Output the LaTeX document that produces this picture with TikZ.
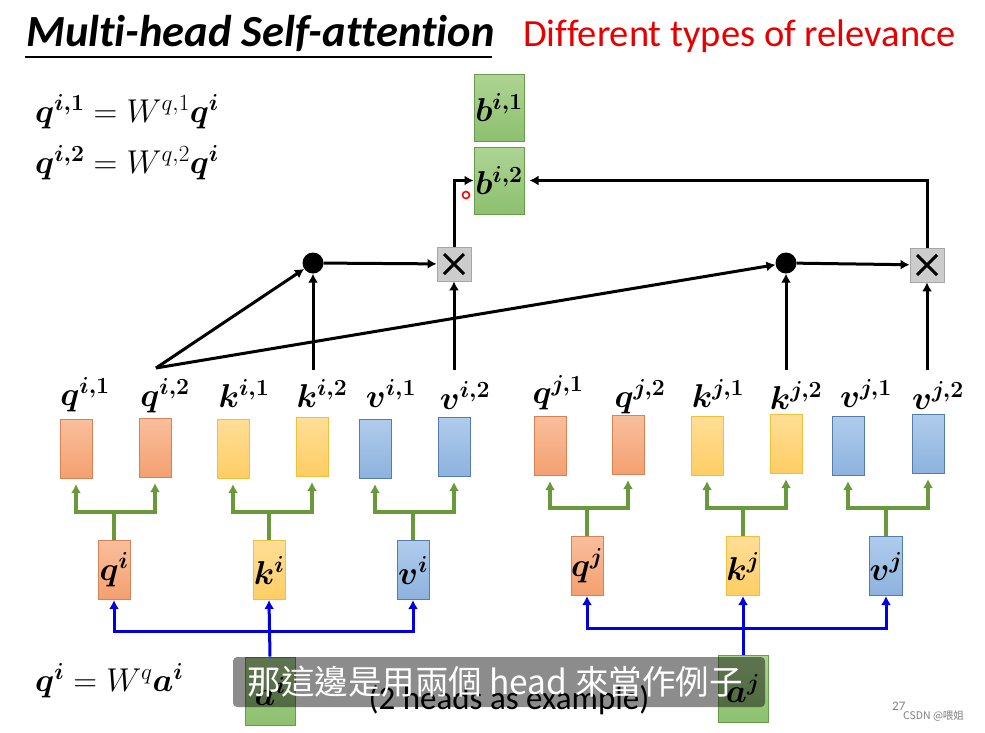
\RequirePackage{fix-cm}
\documentclass[tikz,border=0pt]{standalone}
\usepackage[no-math]{fontspec}
\setmainfont[Ligatures=NoCommon]{Carlito}
\newfontfamily\cjk{Noto Sans CJK TC}
\usepackage{amsmath,bm}
\usetikzlibrary{arrows.meta,calc}
\newcommand\myfs[1]{\fontsize{#1}{#1}\selectfont}
\definecolor{qtop}{RGB}{249,190,156}
\definecolor{qbot}{RGB}{244,160,112}
\definecolor{qbd}{RGB}{214,130,84}
\definecolor{ktop}{RGB}{255,222,150}
\definecolor{kbot}{RGB}{255,205,100}
\definecolor{kbd}{RGB}{240,192,60}
\definecolor{vtop}{RGB}{176,204,236}
\definecolor{vbot}{RGB}{140,178,222}
\definecolor{vbd}{RGB}{84,124,172}
\definecolor{gtop}{RGB}{174,212,148}
\definecolor{gbot}{RGB}{140,192,110}
\definecolor{gbd}{RGB}{104,156,76}
\definecolor{garrc}{RGB}{104,154,60}
\definecolor{barrc}{RGB}{0,0,225}
\definecolor{redtxt}{RGB}{232,0,0}
\tikzset{
  rbox/.style={line width=1pt, minimum width=32pt, minimum height=59pt, inner sep=0pt},
  qbox/.style={rbox, draw=qbd, top color=qtop, bottom color=qbot},
  kbox/.style={rbox, draw=kbd, top color=ktop, bottom color=kbot},
  vbox/.style={rbox, draw=vbd, top color=vtop, bottom color=vbot},
  gbox/.style={line width=1pt, draw=gbd, top color=gtop, bottom color=gbot, minimum width=50pt, minimum height=67pt, inner sep=0pt},
  lab/.style={inner sep=0pt, font=\myfs{33}},
  inlab/.style={font=\myfs{33}},
  garr/.style={draw=garrc, line width=3.3pt, -{Latex[length=9pt,width=10pt]}},
  gline/.style={draw=garrc, line width=3.3pt},
  barr/.style={draw=barrc, line width=3pt, -{Latex[length=9pt,width=10pt]}},
  karr/.style={draw=black, line width=3pt, -{Latex[length=9pt,width=10pt]}},
  dotn/.style={circle, fill=black, minimum size=21pt, inner sep=0pt},
  xbox/.style={draw=black!35, fill=black!20, line width=0.8pt, minimum size=34pt, inner sep=0pt},
}
\begin{document}
\begin{tikzpicture}[x=1pt,y=-1pt]
\useasboundingbox (0,0) rectangle (985,732);
\fill[white] (0,0) rectangle (985,732);

% title
\node[anchor=base west, inner sep=0pt] (title) at (26,46) {\myfs{44.5}\bfseries\itshape Multi-head Self-attention};
\draw[line width=1.3pt] (25,57) -- (492,57);
\node[anchor=base west, inner sep=0pt, text=redtxt] (sub) at (523,46) {\myfs{38.5}Different types of relevance};

% equations
\node[anchor=west, inner sep=0pt, font=\myfs{33}] (eq1) at (35,112) {$\bm{q^{i,1}} = W^{q,1}\bm{q^{i}}$};
\node[anchor=west, inner sep=0pt, font=\myfs{33}] (eq2) at (35,163) {$\bm{q^{i,2}} = W^{q,2}\bm{q^{i}}$};
\node[anchor=west, inner sep=0pt, font=\myfs{33}] (eq3) at (35,681) {$\bm{q^{i}} = W^{q}\bm{a^{i}}$};

% b boxes
\node[gbox, inlab] (b1) at (499,107.5) {$\bm{b^{i,1}}$};
\node[gbox, inlab] (b2) at (499,180.5) {$\bm{b^{i,2}}$};

% dots and products
\node[dotn] (dot1) at (313,263) {};
\node[dotn] (dot2) at (786,263) {};
\node[xbox] (x1) at (454,264) {};
\node[xbox] (x2) at (927,265) {};
\foreach \n in {x1,x2}{
  \draw[line width=3pt] ($(\n)+(-10,-10)$) -- ($(\n)+(10,10)$);
  \draw[line width=3pt] ($(\n)+(-10,10)$) -- ($(\n)+(10,-10)$);
}

% head rectangles i
\node[qbox] (qi1) at (76,449) {};
\node[qbox] (qi2) at (155,448) {};
\node[kbox] (ki1) at (233,449) {};
\node[kbox] (ki2) at (312,447) {};
\node[vbox] (vi1) at (375,449) {};
\node[vbox] (vi2) at (454,447) {};
% head rectangles j
\node[qbox] (qj1) at (550,446) {};
\node[qbox] (qj2) at (628,445) {};
\node[kbox] (kj1) at (707,446) {};
\node[kbox] (kj2) at (786,444) {};
\node[vbox] (vj1) at (848,446) {};
\node[vbox] (vj2) at (928,444) {};

% labels
\node[lab] (lqi1) at (85,395) {$\bm{q^{i,1}}$};
\node[lab] (lqi2) at (165,396) {$\bm{q^{i,2}}$};
\node[lab] (lki1) at (244,393) {$\bm{k^{i,1}}$};
\node[lab] (lki2) at (322,393) {$\bm{k^{i,2}}$};
\node[lab] (lvi1) at (391,393) {$\bm{v^{i,1}}$};
\node[lab] (lvi2) at (465,395) {$\bm{v^{i,2}}$};
\node[lab] (lqj1) at (558,393) {$\bm{q^{j,1}}$};
\node[lab] (lqj2) at (640,397) {$\bm{q^{j,2}}$};
\node[lab] (lkj1) at (718,393) {$\bm{k^{j,1}}$};
\node[lab] (lkj2) at (796,395) {$\bm{k^{j,2}}$};
\node[lab] (lvj1) at (866,393) {$\bm{v^{j,1}}$};
\node[lab] (lvj2) at (938,395) {$\bm{v^{j,2}}$};

% q k v boxes
\node[qbox, inlab] (qi) at (114,570) {$\bm{q^{i}}$};
\node[kbox, inlab] (ki) at (269,570) {$\bm{k^{i}}$};
\node[vbox, inlab] (vi) at (413,570) {$\bm{v^{i}}$};
\node[qbox, inlab] (qj) at (587,566) {$\bm{q^{j}}$};
\node[kbox, inlab] (kj) at (743,566) {$\bm{k^{j}}$};
\node[vbox, inlab] (vj) at (886,566) {$\bm{v^{j}}$};

% green forks
\foreach \s/\a/\b/\yy in {qi/qi1/qi2/512, ki/ki1/ki2/512, vi/vi1/vi2/512, qj/qj1/qj2/508, kj/kj1/kj2/508, vj/vj1/vj2/508}{
  \path let \p1=(\s.north) in coordinate (\s-bar) at (\x1,\yy);
  \draw[gline] (\s.north) -- (\s-bar);
  \draw[garr, shorten >=5pt] (\s-bar) -| (\a.south);
  \draw[garr, shorten >=5pt] (\s-bar) -| (\b.south);
}

% a boxes
\node[gbox, minimum height=68pt, inlab] (ai) at (270,691) {$\bm{a^{i}}$};
\node[gbox, minimum height=67pt, inlab] (aj) at (743,688.5) {$\bm{a^{j}}$};

% blue forks
\coordinate (lbar) at (270,631);
\coordinate (rbar) at (743,628);
\draw[barr] (ai.north) -- (ki.south);
\draw[barr] (lbar) -| (qi.south);
\draw[barr] (lbar) -| (vi.south);
\draw[barr] (aj.north) -- (kj.south);
\draw[barr] (rbar) -| (qj.south);
\draw[barr] (rbar) -| (vj.south);

% attention connectors
\coordinate (s) at (156,368);
\coordinate (ki2t) at (313,370);
\coordinate (vi2t) at (454,370);
\coordinate (kj2t) at (786,370);
\coordinate (vj2t) at (927,370);
\draw[karr] (s) -- (dot1);
\draw[karr] (s) -- (dot2);
\draw[karr] (ki2t) -- (dot1);
\draw[karr] (vi2t) -- (x1);
\draw[karr] (kj2t) -- (dot2);
\draw[karr] (vj2t) -- (x2);
\draw[karr] (dot1) -- (x1);
\draw[karr] (dot2) -- (x2);
\draw[karr] (x1.north) |- (b2.west);
\draw[karr, shorten >=5pt] (x2.north) |- (b2.east);

% pointer mark
\draw[red, line width=1.6pt] (466,195) circle (3.5pt);

% caption
\node[inner sep=0pt, font=\myfs{33}] (ex) at (509,700) {(2 heads as example)};
\fill[black, opacity=0.45, rounded corners=4pt] (233,657) rectangle (765,707);
\node[inner sep=0pt, text=white, font=\cjk\myfs{33.5}] (cap) at (495,682) {那這邊是用兩個 head 來當作例子};

% page number / watermark
\node[anchor=base west, inner sep=0pt, text=black!50, font=\myfs{13}] (pg) at (892,710) {27};
\node[anchor=base west, inner sep=0pt, text=black!50, font=\cjk\myfs{10.5}] (wm) at (903,719) {CSDN @喂姐};
\end{tikzpicture}
\end{document}
